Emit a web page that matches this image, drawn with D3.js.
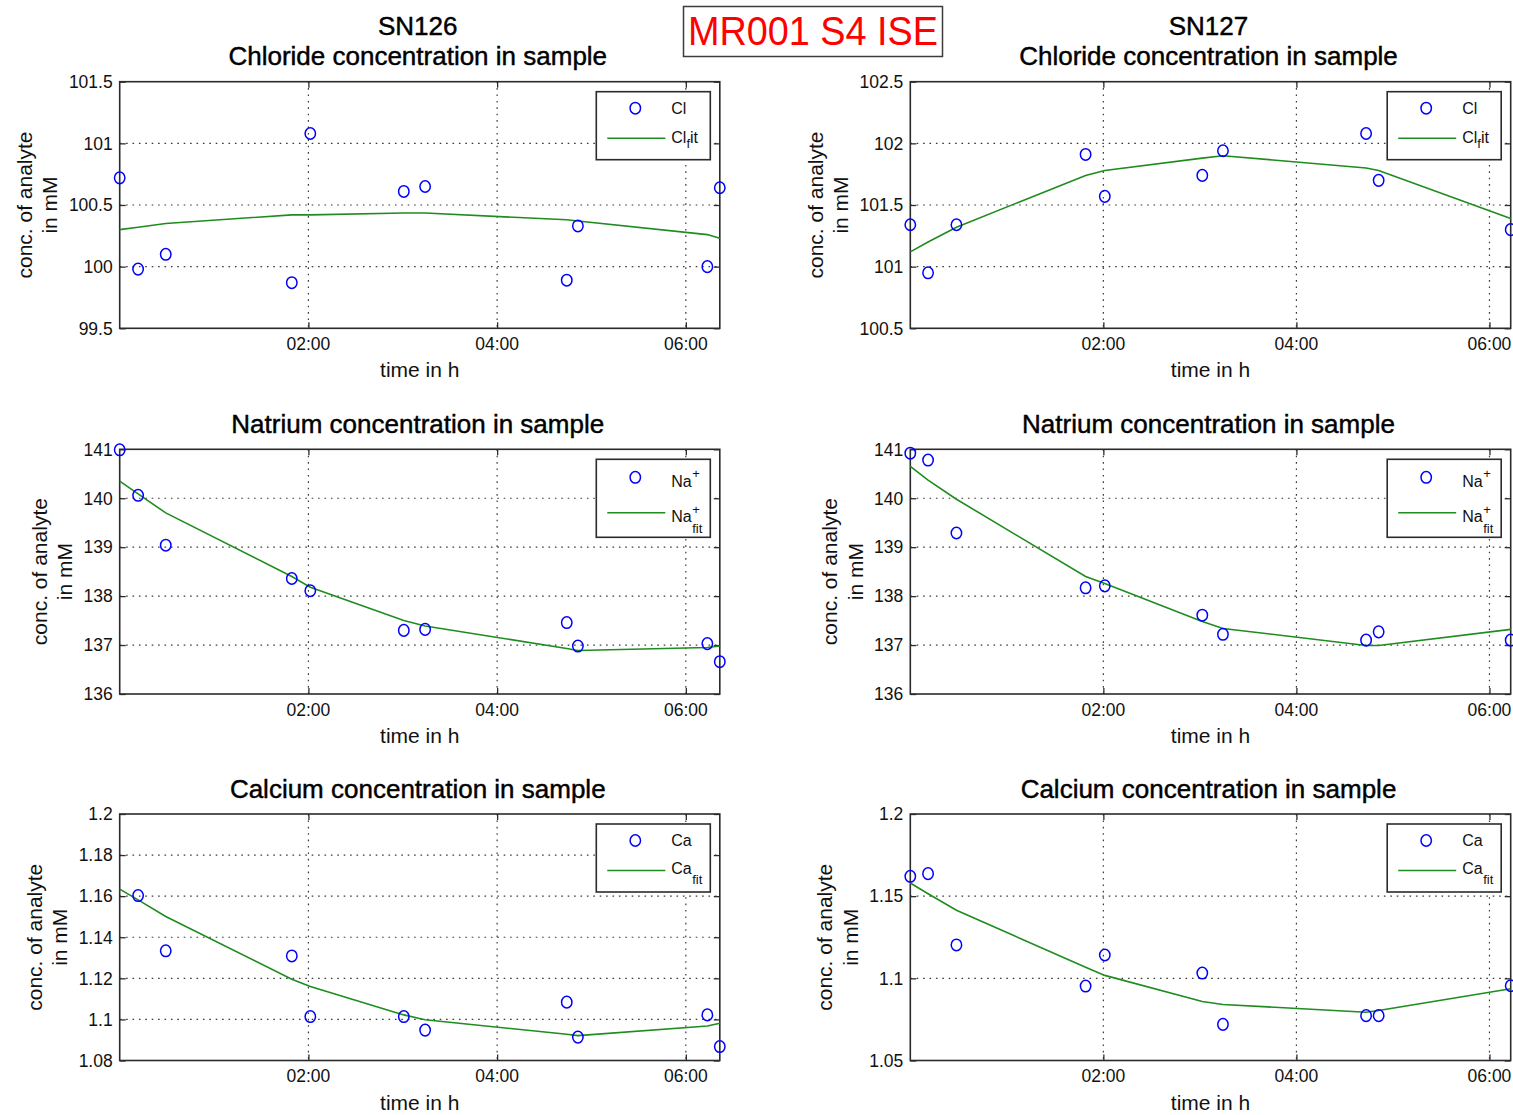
<!DOCTYPE html>
<html>
<head>
<meta charset="utf-8">
<script src="https://cdn.jsdelivr.net/npm/d3@7"></script>
<style>
  body { margin: 0; background: #fff; }
  svg { display: block; font-family: "Liberation Sans", Arial, Helvetica, sans-serif; }
</style>
</head>
<body>
<svg id="fig" width="1513" height="1115"></svg>
<script>
// ---- sampling times (hours since start) ----
const timeSN126 = [0, 0.195, 0.488, 1.824, 2.02, 3.011, 3.237, 4.738, 4.856, 6.228, 6.36];
const timeSN127 = [0, 0.184, 0.478, 1.816, 2.015, 3.025, 3.239, 4.722, 4.852, 6.22];

// ---- chloride ----
const clSN126    = [100.72, 99.98, 100.10, 99.87, 101.08, 100.61, 100.65, 99.89, 100.33, 100.00, 100.64];
const clFitSN126 = [100.30, 100.32, 100.35, 100.42, 100.42, 100.435, 100.435, 100.38, 100.37, 100.26, 100.23];
const clSN127    = [101.34, 100.95, 101.34, 101.91, 101.57, 101.74, 101.94, 102.08, 101.70, 101.30];
const clFitSN127 = [101.12, 101.20, 101.32, 101.74, 101.78, 101.88, 101.90, 101.80, 101.78, 101.39];

// ---- natrium ----
const naSN126    = [140.99, 140.06, 139.04, 138.36, 138.11, 137.30, 137.32, 137.46, 136.98, 137.03, 136.66];
const naFitSN126 = [140.35, 140.09, 139.70, 138.40, 138.18, 137.50, 137.39, 136.93, 136.89, 136.95, 136.98];
const naSN127    = [140.92, 140.78, 139.29, 138.17, 138.21, 137.61, 137.22, 137.10, 137.27, 137.10];
const naFitSN127 = [140.65, 140.37, 139.98, 138.40, 138.26, 137.48, 137.34, 136.99, 136.99, 137.32];

// ---- calcium (first SN126 reading missing) ----
const caSN126    = [null, 1.1603, 1.1334, 1.1309, 1.1014, 1.1014, 1.0948, 1.1084, 1.0914, 1.1022, 1.0868];
const caFitSN126 = [1.1634, 1.1582, 1.1501, 1.1196, 1.1160, 1.1022, 1.0998, 1.0928, 1.0921, 1.0968, 1.0981];
const caSN127    = [1.1621, 1.1637, 1.1203, 1.0953, 1.1142, 1.1032, 1.0720, 1.0773, 1.0773, 1.0955];
const caFitSN127 = [1.158, 1.1515, 1.1414, 1.1067, 1.1018, 1.0859, 1.0841, 1.0794, 1.0804, 1.0937];

// ---- axis ticks ----
const xTickHours  = [2, 4, 6];
const xTickLabels = ["02:00", "04:00", "06:00"];
const clTicksSN126 = [99.5, 100, 100.5, 101, 101.5];
const clTicksSN127 = [100.5, 101, 101.5, 102, 102.5];
const naTicks      = [136, 137, 138, 139, 140, 141];
const caTicksSN126 = [1.08, 1.1, 1.12, 1.14, 1.16, 1.18, 1.2];
const caTicksSN127 = [1.05, 1.1, 1.15, 1.2];

// ---- text ----
const sensorNames = ["SN126", "SN127"];
const rowTitles = ["Chloride concentration in sample", "Natrium concentration in sample", "Calcium concentration in sample"];
const ions = ["Cl", "Na", "Ca"];
const figureLabel = "MR001 S4 ISE";
const yLabelLines = ["conc. of analyte", "in mM"];
const xLabel = "time in h";

// ---- layout ----
const colX = [[119.7, 719.8], [910.3, 1510.7]];
const rowY = [[81.7, 328.3], [449.3, 694], [814, 1060.5]];
const BOX = "#2b2b2b", GRID = "#3a3a3a", FIT = "#1e8c1e", PT = "#0000ff";
const TICK_FS = 17.5, LABEL_FS = 21, TITLE_FS = 26, LEG_FS = 16, SUB_FS = 13;

const panels = [
  { row: 0, col: 0, t: timeSN126, v: clSN126, fit: clFitSN126, ticks: clTicksSN126 },
  { row: 0, col: 1, t: timeSN127, v: clSN127, fit: clFitSN127, ticks: clTicksSN127 },
  { row: 1, col: 0, t: timeSN126, v: naSN126, fit: naFitSN126, ticks: naTicks },
  { row: 1, col: 1, t: timeSN127, v: naSN127, fit: naFitSN127, ticks: naTicks },
  { row: 2, col: 0, t: timeSN126, v: caSN126, fit: caFitSN126, ticks: caTicksSN126 },
  { row: 2, col: 1, t: timeSN127, v: caSN127, fit: caFitSN127, ticks: caTicksSN127 }
];

const svg = d3.select("#fig");
const fmt = d3.format("~g");

panels.forEach(p => {
  const [x0, x1] = colX[p.col];
  const [y0, y1] = rowY[p.row];
  const x = d3.scaleLinear().domain(d3.extent(p.t)).range([x0, x1]);
  const y = d3.scaleLinear().domain(d3.extent(p.ticks)).range([y1, y0]);
  const g = svg.append("g");

  // dotted grid
  const yInner = p.ticks.filter(v => v !== y.domain()[0] && v !== y.domain()[1]);
  g.append("g").selectAll("line").data(yInner).join("line")
    .attr("x1", x0).attr("x2", x1).attr("y1", d => y(d)).attr("y2", d => y(d))
    .attr("stroke", GRID).attr("stroke-width", 1.2).attr("stroke-dasharray", "1.6,4.8");
  g.append("g").selectAll("line").data(xTickHours).join("line")
    .attr("x1", d => x(d)).attr("x2", d => x(d)).attr("y1", y0).attr("y2", y1)
    .attr("stroke", GRID).attr("stroke-width", 1.2).attr("stroke-dasharray", "1.6,4.8");

  // axes (ticks inward on all four sides)
  const axL = d3.axisRight(y).tickValues(p.ticks).tickSize(6).tickFormat("");
  const axR = d3.axisLeft(y).tickValues(p.ticks).tickSize(6).tickFormat("");
  const axB = d3.axisTop(x).tickValues(xTickHours).tickSize(6).tickFormat("");
  const axT = d3.axisBottom(x).tickValues(xTickHours).tickSize(6).tickFormat("");
  [[axL, `translate(${x0},0)`], [axR, `translate(${x1},0)`],
   [axB, `translate(0,${y1})`], [axT, `translate(0,${y0})`]].forEach(([ax, tr]) => {
    const a = g.append("g").attr("transform", tr).call(ax);
    a.select(".domain").remove();
    a.selectAll(".tick line").attr("stroke", BOX).attr("stroke-width", 1.3);
  });
  g.append("rect").attr("x", x0).attr("y", y0).attr("width", x1 - x0).attr("height", y1 - y0)
    .attr("fill", "none").attr("stroke", BOX).attr("stroke-width", 1.6);

  // tick labels
  const yl = g.append("g").selectAll("text").data(p.ticks).join("text")
    .attr("x", x0 - 7).attr("y", d => y(d)).attr("dy", "0.36em")
    .attr("text-anchor", "end").attr("font-size", TICK_FS).attr("fill", "#111")
    .text(d => fmt(d));
  g.append("g").selectAll("text").data(xTickHours).join("text")
    .attr("x", d => x(d)).attr("y", y1 + 21.7)
    .attr("text-anchor", "middle").attr("font-size", TICK_FS).attr("fill", "#111")
    .text((d, i) => xTickLabels[i]);

  // axis labels
  let maxW = 0;
  yl.each(function () { maxW = Math.max(maxW, this.getComputedTextLength()); });
  const cy = (y0 + y1) / 2;
  const lx2 = x0 - 7 - maxW - 19, lx1 = lx2 - 25.5;
  [lx1, lx2].forEach((lx, i) => {
    g.append("text").attr("transform", `translate(${lx},${cy}) rotate(-90)`)
      .attr("dy", "0.36em").attr("text-anchor", "middle").attr("font-size", LABEL_FS)
      .attr("fill", "#111").text(yLabelLines[i]);
  });
  g.append("text").attr("x", (x0 + x1) / 2).attr("y", y1 + 49)
    .attr("text-anchor", "middle").attr("font-size", LABEL_FS).attr("fill", "#111").text(xLabel);

  // titles
  const cx = (x0 + x1) / 2 - 2;
  g.append("text").attr("x", cx).attr("y", y0 - 16.5).attr("text-anchor", "middle")
    .attr("font-size", TITLE_FS).attr("fill", "#000")
    .attr("stroke", "#000").attr("stroke-width", 0.45).text(rowTitles[p.row]);
  if (p.row === 0) {
    g.append("text").attr("x", cx).attr("y", y0 - 46.5).attr("text-anchor", "middle")
      .attr("font-size", TITLE_FS).attr("fill", "#000")
      .attr("stroke", "#000").attr("stroke-width", 0.45).text(sensorNames[p.col]);
  }

  // fit line
  const fitPts = p.t.map((t, i) => [t, p.fit[i]]);
  g.append("path").datum(fitPts)
    .attr("d", d3.line().x(d => x(d[0])).y(d => y(d[1])))
    .attr("fill", "none").attr("stroke", FIT).attr("stroke-width", 1.6);

  // measurements
  const meas = p.t.map((t, i) => [t, p.v[i]]).filter(d => d[1] != null);
  g.append("g").selectAll("ellipse").data(meas).join("ellipse")
    .attr("cx", d => x(d[0])).attr("cy", d => y(d[1])).attr("rx", 5.2).attr("ry", 5.8)
    .attr("fill", "none").attr("stroke", PT).attr("stroke-width", 1.5);

  drawLegend(g, x1 - 9.5, y0 + 10, ions[p.row]);
});

function drawLegend(g, right, top, ion) {
  const isNa = ion === "Na";
  const w = 114, h = isNa ? 78 : 68;
  const left = right - w;
  const lg = g.append("g");
  lg.append("rect").attr("x", left).attr("y", top).attr("width", w).attr("height", h)
    .attr("fill", "#fff").attr("stroke", BOX).attr("stroke-width", 1.6);
  const r1 = top + (isNa ? 18 : 16.5);
  const r2 = top + (isNa ? 53.5 : 46.5);
  lg.append("ellipse").attr("cx", left + 39).attr("cy", r1).attr("rx", 5.2).attr("ry", 5.8)
    .attr("fill", "none").attr("stroke", PT).attr("stroke-width", 1.5);
  lg.append("line").attr("x1", left + 11).attr("x2", left + 69).attr("y1", r2).attr("y2", r2)
    .attr("stroke", FIT).attr("stroke-width", 1.6);
  const tx = left + 75;
  const txt = (xx, yy, s, fs) => lg.append("text").attr("x", xx).attr("y", yy)
    .attr("font-size", fs).attr("fill", "#111").text(s);

  if (ion === "Cl") {
    txt(tx, r1 + 5.8, "Cl", LEG_FS);
    const t2 = lg.append("text").attr("x", tx).attr("y", r2 + 4.5).attr("font-size", LEG_FS).attr("fill", "#111");
    t2.append("tspan").text("Cl");
    t2.append("tspan").attr("dy", 5.5).attr("font-size", SUB_FS).text("f");
    t2.append("tspan").attr("dy", -5.5).text("it");
  } else if (isNa) {
    const a = txt(tx, top + 28, "Na", LEG_FS);
    const wa = a.node().getComputedTextLength();
    txt(tx + wa + 0.5, top + 19, "+", SUB_FS);
    const b = txt(tx, top + 63, "Na", LEG_FS);
    const wb = b.node().getComputedTextLength();
    txt(tx + wb + 0.5, top + 54.5, "+", SUB_FS);
    txt(tx + wb + 0.5, top + 74, "fit", SUB_FS);
  } else {
    txt(tx, r1 + 5.8, "Ca", LEG_FS);
    const b = txt(tx, top + 50, "Ca", LEG_FS);
    const wb = b.node().getComputedTextLength();
    txt(tx + wb + 0.5, top + 60, "fit", SUB_FS);
  }
}

// figure tag
const tagG = svg.append("g");
tagG.append("rect").attr("x", 683.5).attr("y", 6.5).attr("width", 259).attr("height", 50)
  .attr("fill", "#fff").attr("stroke", "#3c3c3c").attr("stroke-width", 1.5);
tagG.append("text").attr("x", 813).attr("y", 45).attr("text-anchor", "middle")
  .attr("font-size", 40).attr("fill", "#ff0000")
  .attr("textLength", 250).attr("lengthAdjust", "spacingAndGlyphs").text(figureLabel);
</script>
</body>
</html>
